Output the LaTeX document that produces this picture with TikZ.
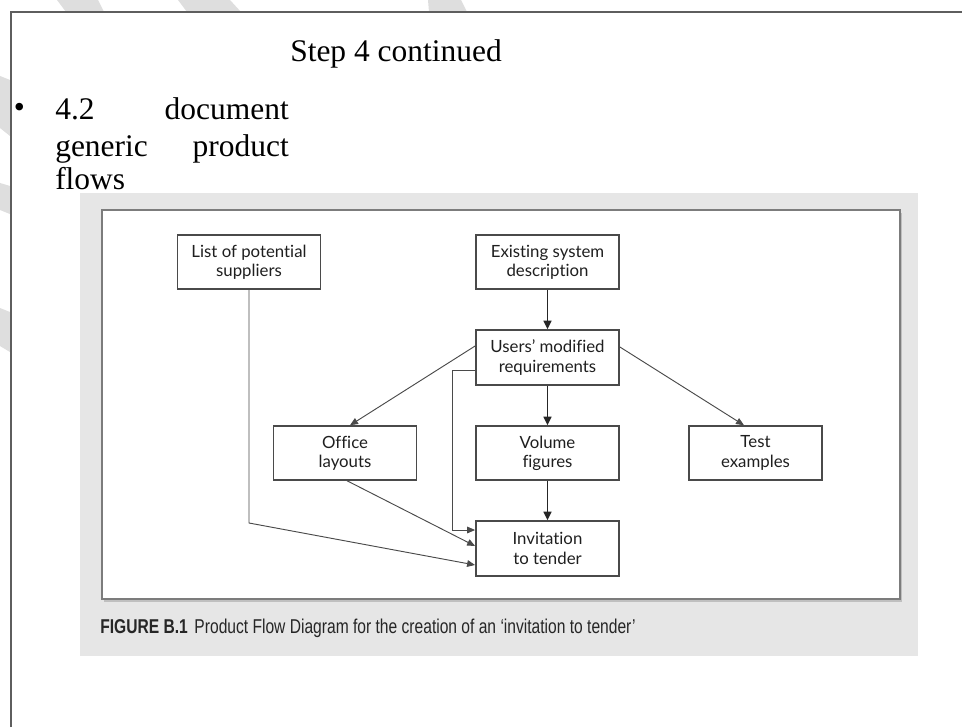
\documentclass[tikz,border=0pt]{standalone}
\usepackage{fontspec}
\setmainfont{Liberation Serif}
\newfontfamily\boxfont[Ligatures=NoCommon]{Lato}
\newfontfamily\capfont[FakeStretch=0.78]{Liberation Sans}
\usetikzlibrary{arrows.meta,calc}
\definecolor{framegray}{HTML}{5E5E5E}
\definecolor{panelgray}{HTML}{E6E6E6}
\definecolor{innerborder}{HTML}{7C7C7C}
\definecolor{markgray}{HTML}{DEDEDE}
\definecolor{linegray}{HTML}{4A4A4A}
\tikzset{
  flowbox/.style={draw=linegray, line width=1.1pt, fill=white, align=center,
    inner sep=0pt, minimum height=40.5pt, minimum width=107.5pt,
    font=\boxfont\fontsize{12.6pt}{14.4pt}\selectfont, text=black!88},
  thinlink/.style={draw=linegray, line width=0.7pt,
    -{Triangle[length=6pt,width=5pt]}},
  mainlink/.style={draw=black!85, line width=1.2pt,
    -{Triangle[length=6.5pt,width=6pt]}},
  serif/.style={font=\fontsize{23.6pt}{28pt}\selectfont, inner sep=0pt},
}
\begin{document}
\begin{tikzpicture}[x=0.75pt,y=-0.75pt]
\useasboundingbox (0,0) rectangle (962,727);
\fill[white] (0,0) rectangle (962,727);

% faint background marks outside the frame
\fill[markgray] (57,0) -- (98,0) -- (104,12) -- (66,12) -- cycle;
\fill[markgray] (178,0) -- (230,0) -- (241,12) -- (187,12) -- cycle;
\fill[markgray] (428,0) -- (461,0) -- (467,12) -- (429,12) -- cycle;
\fill[markgray] (0,76) -- (10,80) -- (10,136) -- (0,128) -- cycle;
\fill[markgray] (0,183) -- (10,186) -- (10,214) -- (0,210) -- cycle;
\fill[markgray] (0,308) -- (10,312) -- (10,352) -- (0,346) -- cycle;

% page frame
\draw[framegray, line width=1.6pt] (11,727) -- (11,12) -- (962,12);

% heading and bullet text
\node[serif, anchor=base west] (title) at (290,62) {Step 4 continued};
\node[font=\fontsize{23.6pt}{28pt}\selectfont, inner sep=0pt] (bullet) at (19.5,110) {\textbullet};
\node[serif, anchor=base west] (l1a) at (55,120) {4.2};
\node[serif, anchor=base east] (l1b) at (289,120) {document};
\node[serif, anchor=base west] (l2a) at (55,157) {generic};
\node[serif, anchor=base east] (l2b) at (289,157) {product};
\node[serif, anchor=base west] (l3a) at (55,190) {flows};

% figure panel
\fill[panelgray] (80,193) rectangle (918,656);
\fill[black!25] (104,213) rectangle (902,602);
\draw[innerborder, line width=2.2pt, fill=white] (102,210) rectangle (900,599);

% boxes
\node[flowbox] (sup) at (249,262) {List of potential\\suppliers};
\node[flowbox] (exist) at (547.5,262) {Existing system\\description};
\node[flowbox, minimum height=41.25pt] (users) at (547.5,357.5) {Users’ modified\\requirements};
\node[flowbox] (office) at (345,453) {Office\\layouts};
\node[flowbox] (volume) at (547.5,453) {Volume\\figures};
\node[flowbox, minimum width=100pt] (test) at (755.5,453) {Test\\examples};
\node[flowbox, minimum height=41.25pt] (invit) at (547.5,548.5) {Invitation\\to tender};

% connectors
\draw[mainlink] (exist) -- (users);
\draw[mainlink] (users) -- (volume);
\draw[mainlink] (volume) -- (invit);
\draw[thinlink] ($(users.west)+(0,-11.5)$) -- ($(office.north)+(5,0)$);
\draw[thinlink] ($(users.east)+(0,-10.5)$) -- ($(test.north)+(-11.5,0)$);
\draw[thinlink] ($(users.west)+(0,12.5)$) -- ++(-23,0) |- ($(invit.west)+(0,-18.5)$);
\coordinate (supbend) at (249,523);
\draw[thinlink] (sup.south) -- (supbend) -- ($(invit.west)+(0,16.5)$);
\draw[thinlink] ($(office.south)+(2,0)$) -- ($(invit.west)+(0,-2.5)$);

% caption
\node[anchor=base west, inner sep=0pt, font=\capfont\fontsize{15pt}{17pt}\selectfont, text=black!85] (cap) at (100,633)
  {\textbf{FIGURE B.1}\hspace{5pt}Product Flow Diagram for the creation of an ‘invitation to tender’};
\end{tikzpicture}
\end{document}
